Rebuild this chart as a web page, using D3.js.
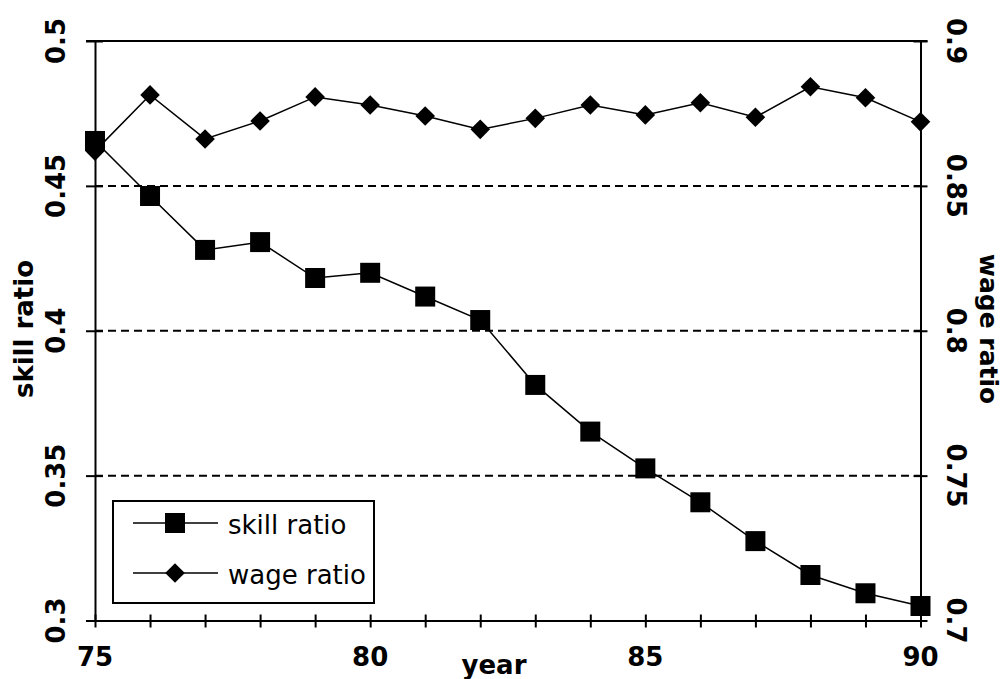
<!DOCTYPE html>
<html>
<head>
<meta charset="utf-8">
<script src="https://cdn.jsdelivr.net/npm/d3@7"></script>
<style>
  body { margin: 0; background: #fff; }
  text { font-family: "DejaVu Sans", sans-serif; fill: #000; }
  .tick-label { font-weight: bold; font-size: 26px; }
  .title { font-weight: bold; font-size: 26px; }
  .legend-label { font-size: 26px; }
</style>
</head>
<body>
<svg width="1006" height="679"></svg>
<script>
// values
const years = [75, 76, 77, 78, 79, 80, 81, 82, 83, 84, 85, 86, 87, 88, 89, 90];

const skillRatio = [0.4655, 0.4465, 0.4279, 0.4306, 0.4182, 0.4200, 0.4118, 0.4037,
                    0.3813, 0.3652, 0.3525, 0.3408, 0.3274, 0.3157, 0.3094, 0.3050];

const wageRatio = [0.8620, 0.8814, 0.8662, 0.8724, 0.8807, 0.8779, 0.8741, 0.8695,
                   0.8733, 0.8779, 0.8745, 0.8787, 0.8737, 0.8842, 0.8804, 0.8721];

const xTicks      = [75, 80, 85, 90];
const skillTicks  = [0.3, 0.35, 0.4, 0.45, 0.5];
const wageTicks   = [0.7, 0.75, 0.8, 0.85, 0.9];
const gridValues  = [0.35, 0.4, 0.45];

const legendItems = [
  {label: "skill ratio", symbol: "square"},
  {label: "wage ratio",  symbol: "diamond"}
];

const svg = d3.select("svg");

const plot = {left: 95, right: 920.5, top: 41, bottom: 620.5};

const x = d3.scaleLinear().domain([75, 90]).range([plot.left, plot.right]);
const yLeft  = d3.scaleLinear().domain([0.3, 0.5]).range([plot.bottom, plot.top]);
const yRight = d3.scaleLinear().domain([0.7, 0.9]).range([plot.bottom, plot.top]);

// dashed gridlines
svg.append("g")
  .selectAll("line")
  .data(gridValues)
  .join("line")
  .attr("x1", plot.left)
  .attr("x2", plot.right)
  .attr("y1", d => yLeft(d))
  .attr("y2", d => yLeft(d))
  .attr("stroke", "#000")
  .attr("stroke-width", 2)
  .attr("stroke-dasharray", "8,5");

// ticks cross the axis lines, so stretch them to both sides
function crossTicks(sel, inner, outer) {
  sel.selectAll(".tick line").each(function() {
    const l = d3.select(this);
    if (l.attr("x2") != null && +l.attr("x2") !== 0) {
      const dir = Math.sign(+l.attr("x2"));
      l.attr("x1", -dir * inner).attr("x2", dir * outer);
    } else {
      const dir = Math.sign(+l.attr("y2"));
      l.attr("y1", -dir * inner).attr("y2", dir * outer);
    }
  });
}

const xAxis = svg.append("g")
  .attr("transform", `translate(0,${plot.bottom})`)
  .call(d3.axisBottom(x).tickValues(years).tickSize(7).tickSizeOuter(0).tickFormat(""));
crossTicks(xAxis, 6, 7);

const leftAxis = svg.append("g")
  .attr("transform", `translate(${plot.left},0)`)
  .call(d3.axisLeft(yLeft).tickValues(skillTicks).tickSize(9).tickSizeOuter(0).tickFormat(""));
crossTicks(leftAxis, 8, 9);

const rightAxis = svg.append("g")
  .attr("transform", `translate(${plot.right},0)`)
  .call(d3.axisRight(yRight).tickValues(wageTicks).tickSize(7).tickSizeOuter(0).tickFormat(""));
crossTicks(rightAxis, 7, 7);

[xAxis, leftAxis, rightAxis].forEach(a => {
  a.selectAll("path, line").attr("stroke", "#000").attr("stroke-width", 2);
});

// top frame line
svg.append("line")
  .attr("x1", plot.left - 9)
  .attr("x2", plot.right + 7)
  .attr("y1", plot.top)
  .attr("y2", plot.top)
  .attr("stroke", "#000")
  .attr("stroke-width", 2);

// tick labels
svg.append("g")
  .selectAll("text")
  .data(xTicks)
  .join("text")
  .attr("class", "tick-label")
  .attr("x", d => x(d))
  .attr("y", 666)
  .attr("text-anchor", "middle")
  .text(d => d);

svg.append("g")
  .selectAll("text")
  .data(skillTicks)
  .join("text")
  .attr("class", "tick-label")
  .attr("text-anchor", "middle")
  .attr("transform", d => `translate(65,${yLeft(d)}) rotate(-90)`)
  .text(d => d);

svg.append("g")
  .selectAll("text")
  .data(wageTicks)
  .join("text")
  .attr("class", "tick-label")
  .attr("text-anchor", "middle")
  .attr("transform", d => `translate(947,${yRight(d)}) rotate(90)`)
  .text(d => d);

// axis titles
svg.append("text")
  .attr("class", "title")
  .attr("x", 494)
  .attr("y", 674)
  .attr("text-anchor", "middle")
  .text("year");

svg.append("text")
  .attr("class", "title")
  .attr("text-anchor", "middle")
  .attr("transform", "translate(33,329) rotate(-90)")
  .text("skill ratio");

svg.append("text")
  .attr("class", "title")
  .attr("text-anchor", "middle")
  .style("font-size", "25px")
  .attr("transform", "translate(980,329) rotate(90)")
  .text("wage ratio");

// series
const skillData = years.map((yr, i) => ({year: yr, value: skillRatio[i]}));
const wageData  = years.map((yr, i) => ({year: yr, value: wageRatio[i]}));

const symbols = {
  square:  d3.symbol().type(d3.symbolSquare).size(400),
  diamond: d3.symbol().type(d3.symbolDiamond2).size(245)
};

function drawSeries(data, y, symbol) {
  const line = d3.line().x(d => x(d.year)).y(d => y(d.value));
  svg.append("path")
    .datum(data)
    .attr("d", line)
    .attr("fill", "none")
    .attr("stroke", "#000")
    .attr("stroke-width", 1.5);

  svg.append("g")
    .selectAll("path")
    .data(data)
    .join("path")
    .attr("d", symbols[symbol])
    .attr("transform", d => `translate(${x(d.year)},${y(d.value)})`)
    .attr("fill", "#000");
}

drawSeries(wageData, yRight, "diamond");
drawSeries(skillData, yLeft, "square");

// legend
const legend = svg.append("g");

legend.append("rect")
  .attr("x", 113)
  .attr("y", 501)
  .attr("width", 261)
  .attr("height", 102)
  .attr("fill", "#fff")
  .attr("stroke", "#000")
  .attr("stroke-width", 2);

const rows = legend.selectAll("g.row")
  .data(legendItems)
  .join("g")
  .attr("class", "row")
  .attr("transform", (d, i) => `translate(0,${523 + i * 50})`);

rows.append("line")
  .attr("x1", 133)
  .attr("x2", 218)
  .attr("stroke", "#000")
  .attr("stroke-width", 1.5);

rows.append("path")
  .attr("d", d => symbols[d.symbol]())
  .attr("transform", "translate(175,0)")
  .attr("fill", "#000");

rows.append("text")
  .attr("class", "legend-label")
  .attr("x", 228)
  .attr("y", 11)
  .text(d => d.label);
</script>
</body>
</html>
